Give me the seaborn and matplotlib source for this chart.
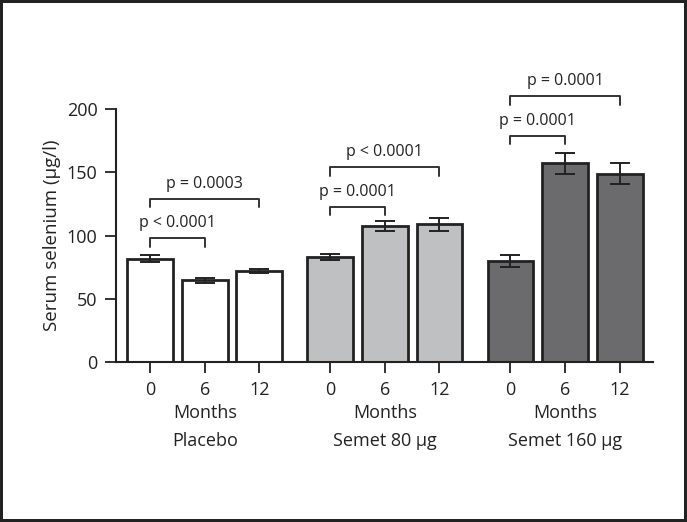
import seaborn as sns
import pandas as pd
import matplotlib.pyplot as plt

# values (mean and SEM, serum selenium in ug/l)
groups = ['Placebo', 'Semet 80 µg', 'Semet 160 µg']
months = ['0', '6', '12']
placebo = [82, 65, 72]
semet80 = [83, 108, 109]
semet160 = [80, 157, 149]
placebo_err = [3, 2, 1.5]
semet80_err = [2.5, 4, 5]
semet160_err = [5, 8, 8]

# significance brackets: (group, from month idx, to month idx, height, text)
brackets = [
    (0, 0, 1, 98, 'p < 0.0001'),
    (0, 0, 2, 129, 'p = 0.0003'),
    (1, 0, 1, 123, 'p = 0.0001'),
    (1, 0, 2, 154, 'p < 0.0001'),
    (2, 0, 1, 179, 'p = 0.0001'),
    (2, 0, 2, 210, 'p = 0.0001'),
]

colors = ['#ffffff', '#bfc0c2', '#6b6b6d']
group_step = 3.3

rows = []
for g, (name, vals, errs) in enumerate(zip(groups, [placebo, semet80, semet160],
                                           [placebo_err, semet80_err, semet160_err])):
    for m, (v, e) in enumerate(zip(vals, errs)):
        rows.append({'pos': g * group_step + m, 'group': name, 'month': months[m],
                     'value': v, 'err': e})
df = pd.DataFrame(rows)

sns.set_style('ticks')
plt.rcParams['font.family'] = ['Open Sans', 'DejaVu Sans']

fig = plt.figure(figsize=(6.87, 5.22), dpi=100)
fig.patch.set_edgecolor('#222222')
fig.patch.set_linewidth(4)
ax = fig.add_axes([0.1684, 0.3056, 0.7821, 0.4856])

sns.barplot(data=df, x='pos', y='value', hue='group', palette=colors,
            native_scale=True, dodge=False, width=0.84, errorbar=None,
            edgecolor='#222222', linewidth=2, legend=False, ax=ax)
ax.errorbar(df['pos'], df['value'], yerr=df['err'], fmt='none',
            ecolor='#222222', elinewidth=1.4, capsize=7.5, capthick=1.4, zorder=3)

ax.set_xlim(-0.63, 9.21)
ax.set_ylim(0, 200)
ax.set_yticks([0, 50, 100, 150, 200])
ax.set_xticks(df['pos'])
ax.set_xticklabels(df['month'])
ax.set_xlabel('')
ax.set_ylabel('Serum selenium (µg/l)', fontsize=13.5, color='#222222')
ax.tick_params(axis='both', labelsize=13, length=8, width=1.3, colors='#222222',
               labelcolor='#222222', pad=5)
sns.despine(ax=ax)
for s in ['left', 'bottom']:
    ax.spines[s].set_linewidth(1.5)
    ax.spines[s].set_color('#222222')

# group captions under the month ticks
trans = ax.get_xaxis_transform()
for g, name in enumerate(groups):
    xc = g * group_step + 1
    ax.text(xc, -0.2, 'Months', transform=trans, ha='center', va='center',
            fontsize=13, color='#222222')
    ax.text(xc, -0.31, name, transform=trans, ha='center', va='center',
            fontsize=13, color='#222222')

# significance brackets
for g, a, b, h, txt in brackets:
    x0 = g * group_step + a
    x1 = g * group_step + b
    ax.plot([x0, x0, x1, x1], [h - 6.5, h, h, h - 6.5], color='#333333', lw=1.4,
            clip_on=False)
    ax.text((x0 + x1) / 2, h + 11.8, txt, ha='center', va='center', fontsize=11.5,
            color='#222222', clip_on=False)

fig.savefig('out.png', dpi=100)
